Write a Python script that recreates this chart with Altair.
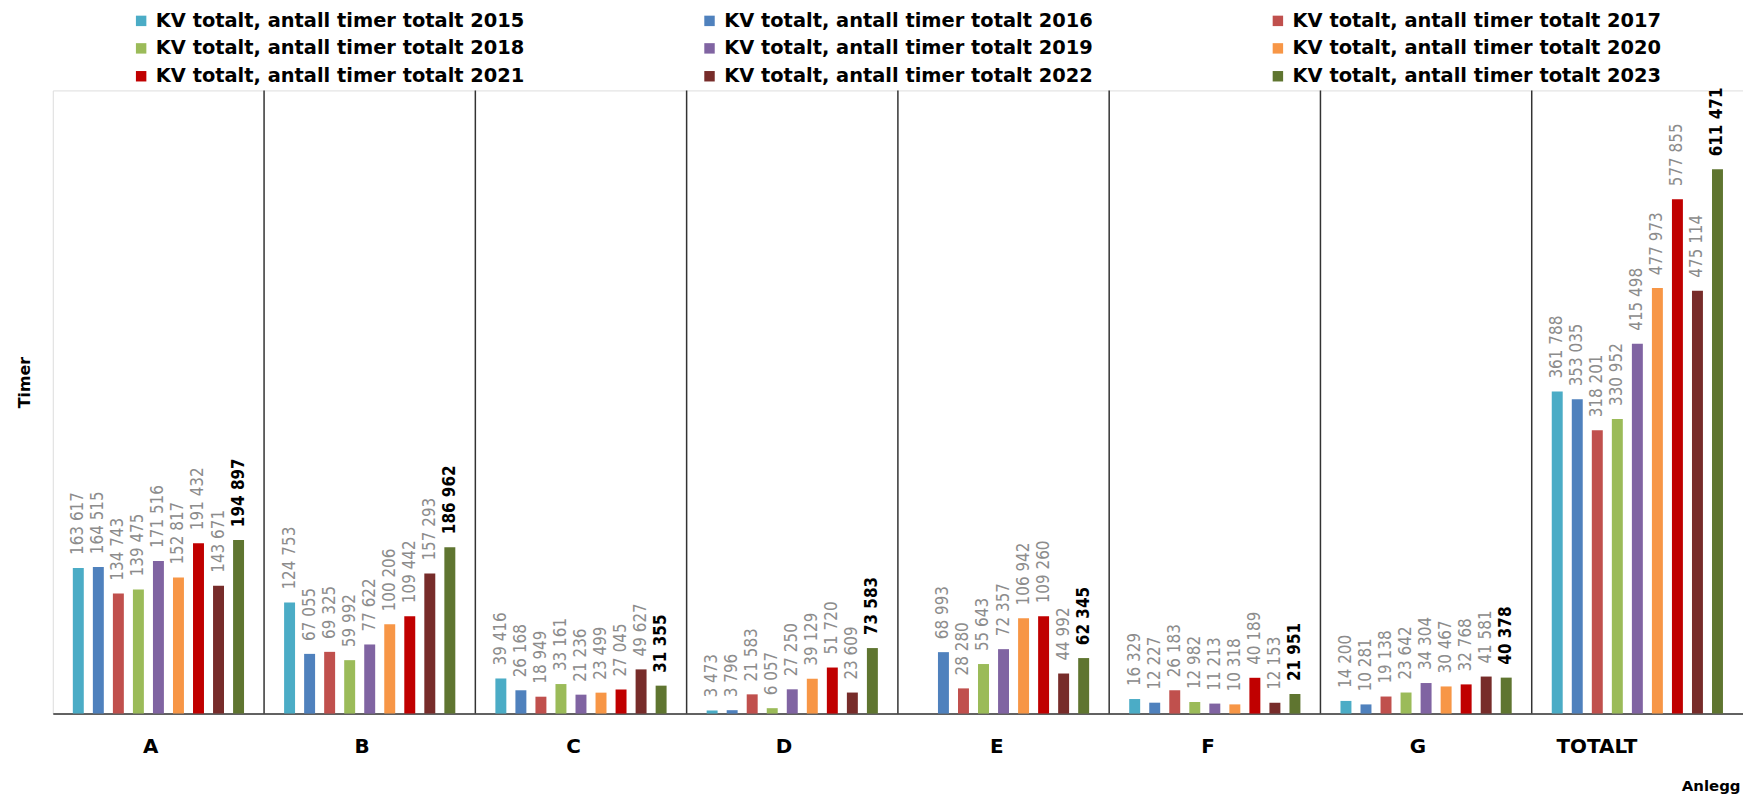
import altair as alt
import pandas as pd

categories = ["A", "B", "C", "D", "E", "F", "G", "TOTALT"]
years = [2015, 2016, 2017, 2018, 2019, 2020, 2021, 2022, 2023]
series_names = [f"KV totalt, antall timer totalt {y}" for y in years]
colors = ["#4BACC6", "#4F81BD", "#C0504D", "#9BBB59", "#8064A2",
          "#F79646", "#C00000", "#772C2A", "#5F7530"]

v2015 = [163617, 124753, 39416, 3473, None, 16329, 14200, 361788]
v2016 = [164515, 67055, 26168, 3796, 68993, 12227, 10281, 353035]
v2017 = [134743, 69325, 18949, 21583, 28280, 26183, 19138, 318201]
v2018 = [139475, 59992, 33161, 6057, 55643, 12982, 23642, 330952]
v2019 = [171516, 77622, 21236, 27250, 72357, 11213, 34304, 415498]
v2020 = [152817, 100206, 23499, 39129, 106942, 10318, 30467, 477973]
v2021 = [191432, 109442, 27045, 51720, 109260, 40189, 32768, 577855]
v2022 = [143671, 157293, 49627, 23609, 44992, 12153, 41581, 475114]
v2023 = [194897, 186962, 31355, 73583, 62345, 21951, 40378, 611471]
all_values = [v2015, v2016, v2017, v2018, v2019, v2020, v2021, v2022, v2023]

rows = []
for yi, (name, vals) in enumerate(zip(series_names, all_values)):
    for c, v in zip(categories, vals):
        if v is None:
            continue
        rows.append({"cat": c, "series": name, "year": years[yi], "value": v,
                     "label": f"{v:,}".replace(",", " ")})
df = pd.DataFrame(rows)

sep_df = pd.DataFrame({"cat": categories[1:]})

W, H = 1698, 626
LABEL_FONT = "DejaVu Sans Condensed, Roboto Condensed, Liberation Sans Narrow, Roboto, sans-serif"

x_enc = alt.X("cat:N", sort=categories,
              scale=alt.Scale(paddingInner=0, paddingOuter=0),
              axis=alt.Axis(title="Anlegg", labelAngle=0, ticks=False, domain=True,
                            domainColor="#333333", domainWidth=1.5,
                            labelFont="DejaVu Sans", labelFontWeight="bold",
                            labelFontSize=20, labelColor="#000000",
                            labelPadding=33, labelBaseline="middle",
                            titleFont="DejaVu Sans", titleFontWeight="bold",
                            titleFontSize=15, titleColor="#000000",
                            titleAnchor="start", titleAlign="left",
                            titleX=1636, titleY=72, titleBaseline="middle"))
xoff = alt.XOffset("series:N", sort=series_names,
                   scale=alt.Scale(paddingInner=0.453, paddingOuter=1))
y_enc = alt.Y("value:Q", scale=alt.Scale(domain=[0, 700000], nice=False, zero=True),
              axis=alt.Axis(title="Timer", labels=False, ticks=False, grid=False,
                            domain=False, titleFont="DejaVu Sans",
                            titleFontSize=16, titleFontWeight="bold",
                            titleColor="#000000", titleAngle=-90,
                            titleX=-28, titleY=293, titleBaseline="middle",
                            titleAlign="center"))

bars = alt.Chart(df).mark_bar().encode(
    x=x_enc,
    xOffset=xoff,
    y=y_enc,
    color=alt.Color("series:N", sort=series_names,
                    scale=alt.Scale(domain=series_names, range=colors),
                    legend=alt.Legend(title=None, orient="none", legendX=79, legendY=-80,
                                      columns=3, direction="horizontal",
                                      symbolType="square", symbolSize=110,
                                      symbolStrokeWidth=0, labelFont="DejaVu Sans",
                                      labelFontWeight="bold", labelFontSize=19.5,
                                      labelColor="#000000", labelLimit=0,
                                      columnPadding=176, rowPadding=7, padding=0,
                                      labelOffset=5)),
)

labels = alt.Chart(df).transform_filter("datum.year != 2023").mark_text(
    angle=270, align="left", baseline="middle", dx=13,
    font=LABEL_FONT, fontSize=17, color="#8C8C8C"
).encode(x=alt.X("cat:N", sort=categories), xOffset=alt.XOffset("series:N", sort=series_names),
         y="value:Q", text="label:N")

labels_bold = alt.Chart(df).transform_filter("datum.year == 2023").mark_text(
    angle=270, align="left", baseline="middle", dx=13,
    font=LABEL_FONT, fontSize=17, fontWeight="bold", color="#000000"
).encode(x=alt.X("cat:N", sort=categories), xOffset=alt.XOffset("series:N", sort=series_names),
         y="value:Q", text="label:N")

seps = alt.Chart(sep_df).mark_rule(color="#333333", strokeWidth=1.5).encode(
    x=alt.X("cat:N", sort=categories, bandPosition=0)
)

chart = alt.layer(seps, bars, labels, labels_bold).properties(
    width=W, height=H,
    autosize=alt.AutoSizeParams(type="none"),
    padding={"left": 45, "top": 81, "right": 0, "bottom": 82},
).configure_view(stroke="#333333", strokeWidth=1.5).configure(background="white")

chart.save("out.html", embed_options={"renderer": "svg", "actions": False})
